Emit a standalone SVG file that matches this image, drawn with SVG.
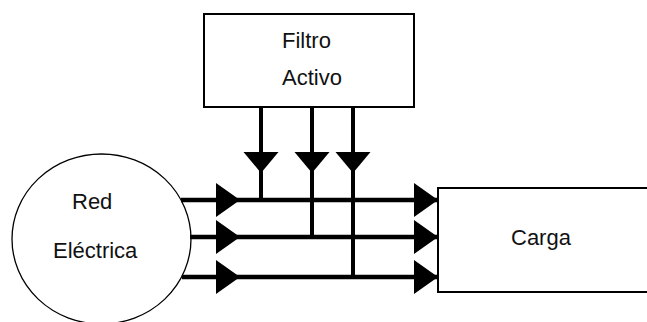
<svg xmlns="http://www.w3.org/2000/svg" width="647" height="322" viewBox="0 0 647 322">
<defs>
<style>
.box{fill:#fff;stroke:#000;stroke-width:2}
.oval{fill:#fff;stroke:#000;stroke-width:1.3}
.wire{stroke:#000;stroke-width:4.5;fill:none}
.vwire{stroke:#000;stroke-width:4;fill:none}
.head{fill:#000}
.lbl{font-family:"Liberation Sans",Arial,sans-serif;font-size:22px;fill:#111}
</style>
<polygon id="ar" class="head" points="0,0 -24,-17 -24,17"/>
<polygon id="ad" class="head" points="0,0 -17.5,-21 17.5,-21"/>
</defs>
<rect width="647" height="322" fill="#fff"/>
<g id="filtro">
<rect class="box" x="204" y="14" width="210" height="93"/>
<text class="lbl" x="282" y="48">Filtro</text>
<text class="lbl" x="282" y="85">Activo</text>
</g>
<g id="red">
<ellipse class="oval" cx="101.5" cy="239" rx="89.5" ry="85"/>
<text class="lbl" x="72" y="209">Red</text>
<text class="lbl" x="53" y="258">Eléctrica</text>
</g>
<g id="carga">
<rect class="box" x="438" y="188" width="230" height="104"/>
<text class="lbl" x="511" y="245">Carga</text>
</g>
<g id="connectors">
<line class="wire" x1="181" y1="200" x2="438" y2="200"/>
<line class="wire" x1="190" y1="237" x2="438" y2="237"/>
<line class="wire" x1="182" y1="277" x2="438" y2="277"/>
<line class="vwire" x1="261" y1="107" x2="261" y2="200"/>
<line class="vwire" x1="312" y1="107" x2="312" y2="237"/>
<line class="vwire" x1="353" y1="107" x2="353" y2="277"/>
<use href="#ad" x="261" y="173"/>
<use href="#ad" x="312" y="173"/>
<use href="#ad" x="353" y="173"/>
<use href="#ar" x="240" y="200"/>
<use href="#ar" x="240" y="237"/>
<use href="#ar" x="240" y="277"/>
<use href="#ar" x="438" y="200"/>
<use href="#ar" x="438" y="237"/>
<use href="#ar" x="438" y="277"/>
</g>
</svg>
